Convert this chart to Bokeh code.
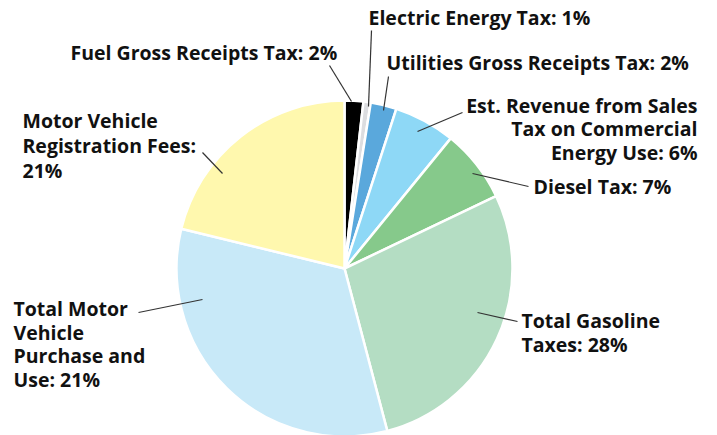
import math
from bokeh.plotting import figure
from bokeh.models import Range1d, ColumnDataSource
from bokeh.core.properties import value
from bokeh.embed import file_html
from bokeh.resources import INLINE

# ---- data (clockwise from 12 o'clock) ----
categories = [
    "Fuel Gross Receipts Tax",
    "Electric Energy Tax",
    "Utilities Gross Receipts Tax",
    "Est. Revenue from Sales Tax on Commercial Energy Use",
    "Diesel Tax",
    "Total Gasoline Taxes",
    "Total Motor Vehicle Purchase and Use",
    "Motor Vehicle Registration Fees",
]
shares = [1.8, 0.7, 2.5, 5.9, 7.0, 28.0, 32.9, 21.2]
labels = [
    "Fuel Gross Receipts Tax: 2%",
    "Electric Energy Tax: 1%",
    "Utilities Gross Receipts Tax: 2%",
    "Est. Revenue from Sales\nTax on Commercial\nEnergy Use: 6%",
    "Diesel Tax: 7%",
    "Total Gasoline\nTaxes: 28%",
    "Total Motor\nVehicle\nPurchase and\nUse: 21%",
    "Motor Vehicle\nRegistration Fees:\n21%",
]
colors = ["#000000", "#dcdde0", "#5aa8dc", "#8ed8f6", "#86c98b",
          "#b4ddc3", "#c8e9f8", "#fff8ae"]

# ---- layout (page pixel coordinates) ----
W, H = 717, 435
def px(X): return X
def py(Y): return H - Y

cx, cy, R = 344, 268, 168
BASE_FIX = 7  # renderer baseline correction (px)
# label anchor: (x, first baseline, align, line pitch)
label_pos = [
    (70, 59, "left", 24),
    (368, 24, "left", 24),
    (386, 69, "left", 24),
    (697, 112, "right", 23.3),
    (533, 193, "left", 24),
    (521, 327, "left", 23.5),
    (13, 315, "left", 23.5),
    (22, 127, "left", 25),
]
leaders = [
    ((329, 65), (351, 101)),
    ((371, 30), (368, 106)),
    ((388, 76), (383, 110)),
    ((462, 112), (417, 131)),
    ((472, 173), (528, 186)),
    ((477, 312), (517, 321)),
    ((138, 312), (202, 299)),
    ((202, 152), (222, 173)),
]

p = figure(width=W, height=H, output_backend="svg", toolbar_location=None,
           x_range=Range1d(0, W), y_range=Range1d(0, H), min_border=0)
p.axis.visible = False
p.grid.visible = False
p.outline_line_color = None
p.background_fill_color = "white"

total = sum(shares)
starts, ends = [], []
acc = 0.0
for s in shares:
    a0 = acc / total
    acc += s
    a1 = acc / total
    starts.append(math.pi / 2 - 2 * math.pi * a1)
    ends.append(math.pi / 2 - 2 * math.pi * a0)

src = ColumnDataSource(dict(cat=categories, start=starts, end=ends, color=colors))
p.wedge(x=px(cx), y=py(cy), radius=R, start_angle="start", end_angle="end",
        fill_color="color", line_color="white", line_width=2.5, source=src)

p.segment(x0=[px(a[0]) for a, b in leaders], y0=[py(a[1]) for a, b in leaders],
          x1=[px(b[0]) for a, b in leaders], y1=[py(b[1]) for a, b in leaders],
          line_color="#333333", line_width=1.2)

tx, ty, tt, ta = [], [], [], []
for lab, (X, Y, al, pitch) in zip(labels, label_pos):
    for i, line in enumerate(lab.split("\n")):
        tx.append(px(X)); ty.append(py(Y + i * pitch) + BASE_FIX); tt.append(line); ta.append(al)
p.text(x=tx, y=ty, text=tt, text_align=ta, text_baseline="alphabetic",
       text_font=value("Open Sans"), text_font_style="bold", text_font_size="19.5px",
       text_color="#111111")

open("out.html", "w").write(file_html(p, INLINE))
